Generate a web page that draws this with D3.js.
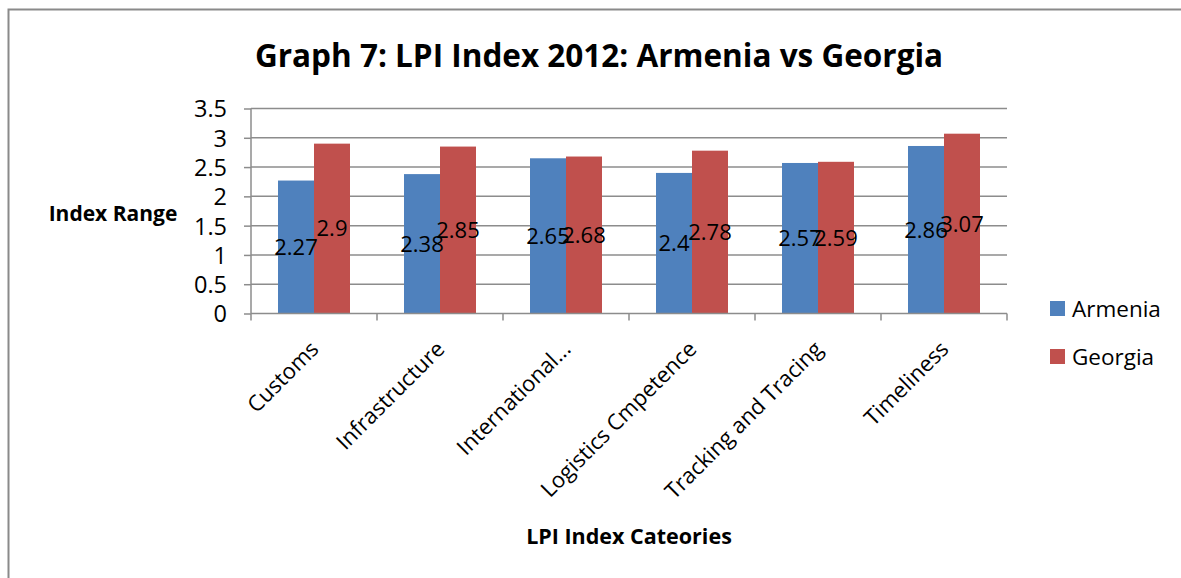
<!DOCTYPE html>
<html>
<head>
<meta charset="utf-8">
<script src="https://cdn.jsdelivr.net/npm/d3@7"></script>
<style>
  html, body { margin: 0; padding: 0; background: #fff; }
  svg { display: block; font-family: "Open Sans", "Noto Sans", sans-serif; }
</style>
</head>
<body>
<svg id="chart" width="1181" height="578"></svg>
<script>
// LPI 2012 scores by category
const categories = ["Customs", "Infrastructure", "International...", "Logistics Cmpetence", "Tracking and Tracing", "Timeliness"];
const armenia = [2.27, 2.38, 2.65, 2.4, 2.57, 2.86];
const georgia = [2.9, 2.85, 2.68, 2.78, 2.59, 3.07];
const seriesNames = ["Armenia", "Georgia"];
const seriesColors = ["#4F81BD", "#C0504D"];
const yTicks = [0, 0.5, 1, 1.5, 2, 2.5, 3, 3.5];

const svg = d3.select("#chart");
const W = 1181, H = 578;
const plot = { left: 251, right: 1007, top: 108.5, bottom: 313.5 };
const FONT = "'Open Sans', sans-serif";

// outer frame (top and left edges visible)
svg.append("rect")
  .attr("x", 8.5).attr("y", 9.5)
  .attr("width", W + 20).attr("height", H + 20)
  .attr("fill", "#fff").attr("stroke", "#8a8a8a").attr("stroke-width", 2);

const x = d3.scaleBand().domain(categories).range([plot.left, plot.right]);
const xInner = d3.scaleBand().domain(seriesNames).range([0, x.bandwidth()]).paddingInner(0).paddingOuter(0.75);
const y = d3.scaleLinear().domain([0, 3.5]).range([plot.bottom, plot.top]);

// horizontal gridlines
svg.append("g").selectAll("line").data(yTicks.filter(d => d > 0)).join("line")
  .attr("x1", plot.left).attr("x2", plot.right)
  .attr("y1", d => y(d)).attr("y2", d => y(d))
  .attr("stroke", "#8c8c8c").attr("stroke-width", 1.5);

// bars
const rows = categories.map((c, i) => ({ cat: c, values: [armenia[i], georgia[i]] }));
const groups = svg.append("g").selectAll("g").data(rows).join("g")
  .attr("transform", d => `translate(${x(d.cat)},0)`);
groups.selectAll("rect").data(d => d.values.map((v, k) => ({ v, k }))).join("rect")
  .attr("x", d => xInner(seriesNames[d.k]))
  .attr("width", xInner.bandwidth())
  .attr("y", d => y(d.v))
  .attr("height", d => y(0) - y(d.v))
  .attr("fill", d => seriesColors[d.k]);

// y axis
const yAxis = svg.append("g")
  .attr("transform", `translate(${plot.left},0)`)
  .call(d3.axisLeft(y).tickValues(yTicks).tickSize(7).tickPadding(17).tickFormat(d3.format("")));
yAxis.attr("font-family", FONT).attr("font-size", 23.5);
yAxis.select(".domain").attr("stroke", "#8c8c8c").attr("stroke-width", 1.5).attr("d", `M0,${plot.top}V${plot.bottom}`);
yAxis.selectAll(".tick line").attr("stroke", "#8c8c8c").attr("stroke-width", 1.5);
yAxis.selectAll(".tick text").attr("fill", "#000").attr("dy", "0.36em");

// x axis
const xAxis = svg.append("g")
  .attr("transform", `translate(0,${plot.bottom})`)
  .call(d3.axisBottom(x).tickSize(0).tickFormat(""));
xAxis.select(".domain").attr("stroke", "#8c8c8c").attr("stroke-width", 1.5).attr("d", `M${plot.left},0H${plot.right}`);
svg.append("g").selectAll("line")
  .data(d3.range(categories.length + 1))
  .join("line")
  .attr("x1", i => plot.left + i * x.step()).attr("x2", i => plot.left + i * x.step())
  .attr("y1", plot.bottom).attr("y2", plot.bottom + 7)
  .attr("stroke", "#8c8c8c").attr("stroke-width", 1.5);

// rotated category labels
svg.append("g").selectAll("text").data(categories).join("text")
  .attr("transform", d => `translate(${x(d) + x.bandwidth() / 2 + 6},${plot.bottom + 37}) rotate(-45)`)
  .attr("text-anchor", "end")
  .attr("font-size", 22)
  .attr("fill", "#000")
  .text(d => d);

// data labels at bar midpoints
groups.selectAll("text").data(d => d.values.map((v, k) => ({ v, k }))).join("text")
  .attr("x", d => xInner(seriesNames[d.k]) + xInner.bandwidth() / 2)
  .attr("y", d => (y(d.v) + y(0)) / 2)
  .attr("dy", "0.36em")
  .attr("text-anchor", "middle")
  .attr("font-size", 22)
  .attr("fill", "#000")
  .text(d => d.v);

// title
svg.append("text")
  .attr("x", 599).attr("y", 67)
  .attr("text-anchor", "middle")
  .attr("font-size", 31.5).attr("font-weight", "bold")
  .attr("fill", "#000")
  .text("Graph 7: LPI Index 2012: Armenia vs Georgia");

// axis titles
svg.append("text")
  .attr("x", 113).attr("y", 221)
  .attr("text-anchor", "middle")
  .attr("font-size", 21).attr("font-weight", "bold")
  .text("Index Range");

svg.append("text")
  .attr("x", 629).attr("y", 544)
  .attr("text-anchor", "middle")
  .attr("font-size", 21.5).attr("font-weight", "bold")
  .text("LPI Index Cateories");

// legend
const legend = svg.append("g").selectAll("g").data(seriesNames).join("g")
  .attr("transform", (d, i) => `translate(1050,${301 + i * 48})`);
legend.append("rect").attr("width", 15).attr("height", 15).attr("fill", (d, i) => seriesColors[i]);
legend.append("text").attr("x", 22).attr("y", 7.5).attr("dy", "0.36em")
  .attr("font-size", 22.5).attr("fill", "#000").text(d => d);
</script>
</body>
</html>
